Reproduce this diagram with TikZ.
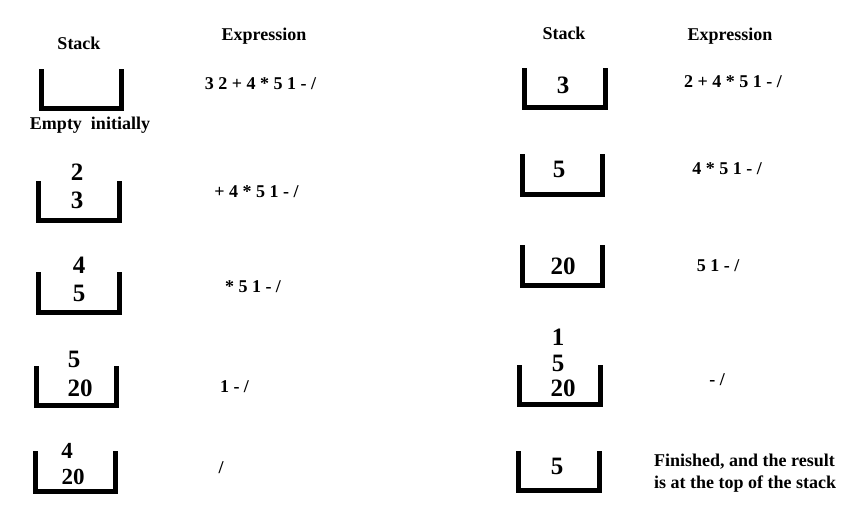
\documentclass[tikz,border=0pt]{standalone}
\usepackage{fontspec}
\setmainfont{Liberation Serif}
\begin{document}
\begin{tikzpicture}[x=1pt,y=-1pt,
  bucket/.style={line width=5pt, line join=miter, line cap=butt},
  txt/.style={inner sep=0pt, font=\bfseries\fontsize{18}{20}\selectfont},
  num/.style={inner sep=0pt, font=\bfseries\fontsize{25}{27}\selectfont},
  snum/.style={inner sep=0pt, font=\bfseries\fontsize{23}{25}\selectfont}]
\useasboundingbox (0,0) rectangle (865,525);
% titles
\node[txt] (stL) at (79,43) {Stack};
\node[txt] (exL) at (264,36) {Expression};
\node[txt] (stR) at (564,33) {Stack};
\node[txt] (exR) at (730,36) {Expression};
% left column buckets
\draw[bucket] (41.5,69) -- (41.5,108.5) -- (121.5,108.5) -- (121.5,69);
\draw[bucket] (38.5,181) -- (38.5,220.5) -- (119.5,220.5) -- (119.5,181);
\draw[bucket] (38.5,272) -- (38.5,312.5) -- (119.5,312.5) -- (119.5,272);
\draw[bucket] (36.5,366) -- (36.5,405.5) -- (116.5,405.5) -- (116.5,366);
\draw[bucket] (35.5,451) -- (35.5,491.5) -- (115.5,491.5) -- (115.5,451);
% right column buckets
\draw[bucket] (524.5,68) -- (524.5,107.5) -- (605.5,107.5) -- (605.5,68);
\draw[bucket] (522.5,154) -- (522.5,194.5) -- (602.5,194.5) -- (602.5,154);
\draw[bucket] (522.5,245) -- (522.5,285.5) -- (602.5,285.5) -- (602.5,245);
\draw[bucket] (519.5,365) -- (519.5,404.5) -- (600.5,404.5) -- (600.5,365);
\draw[bucket] (518.5,451) -- (518.5,490.5) -- (599.5,490.5) -- (599.5,451);
% left column contents
\node[txt] (empty) at (90,125) {Empty\ \ initially};
\node[num] (l2a) at (77,172) {2};
\node[num] (l2b) at (77,200) {3};
\node[num] (l3a) at (79,265) {4};
\node[num] (l3b) at (79,293) {5};
\node[num] (l4a) at (74,359) {5};
\node[num] (l4b) at (80,388) {20};
\node[snum] (l5a) at (67,451) {4};
\node[snum] (l5b) at (73,477) {20};
% right column contents
\node[num] (r1) at (563,85) {3};
\node[num] (r2) at (559,169) {5};
\node[num] (r3) at (563,266) {20};
\node[num] (r4a) at (558,337) {1};
\node[num] (r4b) at (558,363) {5};
\node[num] (r4c) at (563,388) {20};
\node[num] (r5) at (557,466) {5};
% expressions
\node[txt] (e1) at (260.5,84) {3 2 + 4 * 5 1 - /};
\node[txt] (e2) at (256.5,192) {+ 4 * 5 1 - /};
\node[txt] (e3) at (253,287) {* 5 1 - /};
\node[txt] (e4) at (234.5,387) {1 - /};
\node[txt] (e5) at (221,468) {/};
\node[txt] (f1) at (733,82) {2 + 4 * 5 1 - /};
\node[txt] (f2) at (727,169) {4 * 5 1 - /};
\node[txt] (f3) at (718,266) {5 1 - /};
\node[txt] (f4) at (717,380) {- /};
\node[txt, anchor=north west, align=left, font=\bfseries\fontsize{18}{22}\selectfont] (fin) at (654,454) {Finished, and the result\\is at the top of the stack};
\end{tikzpicture}
\end{document}
